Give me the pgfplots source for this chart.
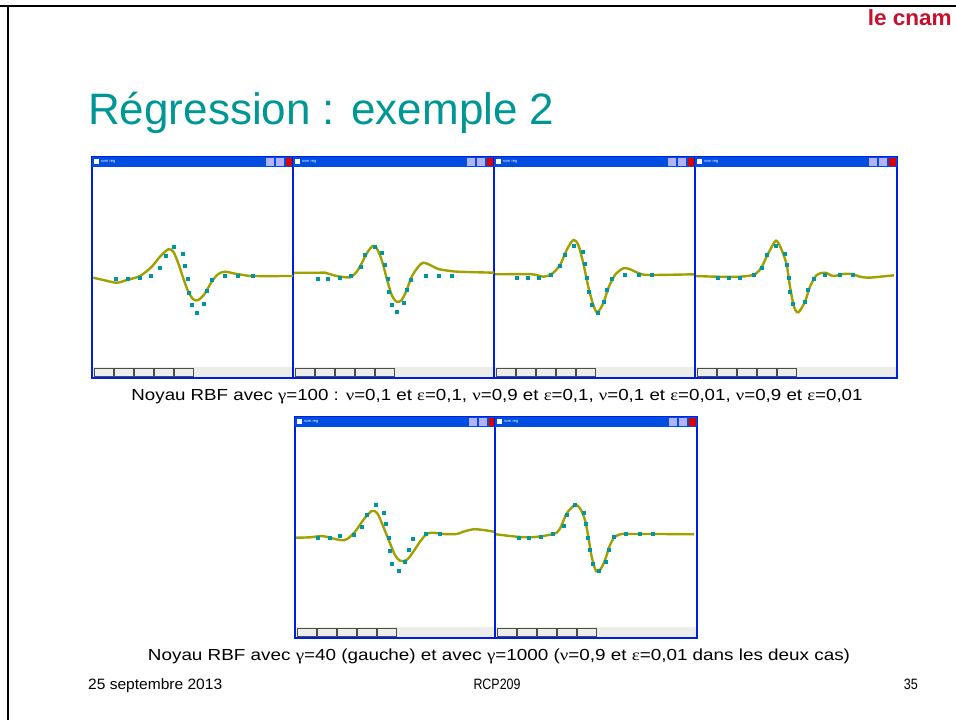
\documentclass[border=0pt]{standalone}
\usepackage{pgfplots}
\pgfplotsset{compat=1.18}
\usepackage{fontspec}
\setmainfont{Liberation Sans}
\newfontfamily\gr{Liberation Serif}
\definecolor{titleteal}{RGB}{0,150,150}
\definecolor{curvec}{RGB}{160,160,0}
\definecolor{ptsc}{RGB}{0,150,160}
\definecolor{winblue}{RGB}{0,30,225}
\definecolor{barblue}{RGB}{0,78,225}
\definecolor{cnamred}{RGB}{200,16,46}
\definecolor{toolc}{RGB}{236,236,232}
\newcommand{\win}[4]{%
 \begin{scope}[x=1pt,y=-1pt]
 \fill[winblue] (#1,#3) rectangle (#2,#4);
 \fill[barblue] (#1+1,#3+1) rectangle (#2-1,#3+11);
 \fill[white] (#1+3,#3+3) rectangle (#1+8,#3+8);
 \node[anchor=west,text=white,inner sep=0pt,font=\fontsize{4}{4}\selectfont] at (#1+10,#3+5.5) {svm reg};
 \fill[white!70!blue] (#2-29,#3+2) rectangle (#2-21,#3+10);
 \fill[white!70!blue] (#2-19,#3+2) rectangle (#2-11,#3+10);
 \fill[red!85!black] (#2-9,#3+2) rectangle (#2-2,#3+10);
 \fill[white] (#1+2,#3+11) rectangle (#2-2,#4-12);
 \fill[toolc] (#1+2,#4-12) rectangle (#2-2,#4-2);
 \foreach \i in {0,...,4} {\draw[black!70,line width=0.6pt] (#1+3+20*\i,#4-11) rectangle (#1+22+20*\i,#4-3);}
 \end{scope}}
\pgfplotsset{panel/.style={anchor=south west, width=200pt, height=200pt, scale only axis,
  xmin=0, xmax=200, ymin=0, ymax=200, hide axis, clip=true},
  fit/.style={curvec, line width=2.4pt, smooth, tension=0.5},
  obs/.style={only marks, mark=square*, mark size=1.5pt, ptsc}}
\begin{document}
\begin{tikzpicture}
\path[use as bounding box, fill=white] (0pt,0pt) rectangle (956pt,-720pt);
\draw[line width=2pt] (0pt,-6pt) -- (956pt,-6pt);
\draw[line width=2pt] (7.7pt,-5pt) -- (7.7pt,-720pt);
\node[anchor=base east, inner sep=0pt, text=cnamred, font=\bfseries\fontsize{22}{22}\selectfont] at (952pt,-25pt) {\resizebox{84pt}{\height}{le cnam}};
\node[anchor=base west, inner sep=0pt, text=titleteal, font=\fontsize{44}{44}\selectfont] at (88pt,-124pt) {Régression : exemple 2};
\win{91}{295}{156}{379}
\win{292}{496}{156}{379}
\win{493}{697}{156}{379}
\win{694}{898}{156}{379}
\win{294}{498}{416}{639}
\win{494}{698}{416}{639}
% panel 1
\begin{axis}[panel, at={(93pt,-367pt)}]
\addplot[fit] coordinates {(0.3,89.3) (10.3,87) (23.7,84.3) (33.7,87) (47,91) (58.7,100.3) (67,110.3) (75.3,117.7) (80.3,115.3) (85.3,103.7) (90.3,88.7) (95.3,75.3) (100.3,67.7) (105.3,67) (112,73.7) (118.7,85.3) (125.3,93) (132,95.3) (140.3,93.7) (150.3,92) (160.3,91) (201,91)};
\addplot[obs] coordinates {(23,88.7) (34.3,88.7) (46.3,89.3) (58,91.3) (67,99.7) (73,111) (80.3,120.3) (89.3,113) (92,101.3) (94.3,88.7) (95.7,74.7) (98.3,62) (103.7,54.3) (111,63.7) (113.7,76) (118.7,87) (131.3,91.3) (144.7,91.3) (159.3,91)};
\end{axis}
% panel 2
\begin{axis}[panel, at={(294pt,-367pt)}]
\addplot[fit] coordinates {(0,94.3) (26,94.3) (31,94.3) (42.7,91) (56,89.7) (62.7,95.3) (67.7,103.7) (72.7,113.7) (78.7,121) (82.7,118.7) (87.7,107) (92.7,88.7) (97.7,72) (102.7,65.3) (107.7,67) (112.7,77) (117.7,90.3) (124.3,100.3) (129.3,104.3) (136,102) (144.3,98) (154.3,96.3) (164.3,95.3) (200,94.3)};
\addplot[obs] coordinates {(23.3,88.7) (33.3,88.7) (45.3,89.7) (57,91.3) (66.7,100.3) (71,112) (81,120.3) (87.7,114.3) (91,102.7) (93.3,88.7) (95,75.3) (97.7,62.7) (102.7,55.3) (109.3,64.3) (112.7,77) (117,87.7) (131.7,91.3) (144.3,91.3) (158,91.3)};
\end{axis}
% panel 3
\begin{axis}[panel, at={(495pt,-367pt)}]
\addplot[fit] coordinates {(0,92.7) (36.7,92.7) (48.3,90.3) (56.7,93) (65,102) (71.7,117) (78.3,127) (83.3,122) (88.3,103.7) (93.3,80.3) (98.3,62) (102.3,54.7) (108.3,63.7) (113.3,78.7) (120,92) (128.3,98.7) (135,97.7) (145,93.3) (155,92) (199,92.7)};
\addplot[obs] coordinates {(21.7,89.7) (32.3,89.7) (44,89.7) (56,92) (65,101) (70,112) (79,121.3) (87.3,115.3) (89.7,103.7) (91.7,89.7) (93.3,75.3) (96.3,62.7) (102.3,54.7) (109,65.3) (111.7,77) (116.7,88) (129.3,92) (143.7,92) (157,92)};
\end{axis}
% panel 4
\begin{axis}[panel, at={(696pt,-367pt)}]
\addplot[fit] coordinates {(0,91) (20.7,90.3) (44,90.3) (59,92.7) (65.7,100.3) (72.3,113.7) (80,126.3) (85.7,117) (90.7,102) (94,80.3) (98,60.3) (102.3,54.7) (109,65.3) (114,80.3) (120.7,92) (129,94.3) (137.3,91) (147.3,93) (155.7,93) (164,90.3) (172.3,89.3) (184,90.3) (198,91.7)};
\addplot[obs] coordinates {(21.7,89.3) (32.3,89.3) (43.3,89.7) (57.3,92) (65.7,99.7) (70.7,112) (79.7,121) (88.3,113.7) (90.7,102) (92.3,89.3) (93.3,75.3) (96.3,63) (109,65.3) (111.3,77) (117.3,88) (129,92) (143.3,92) (156.7,92)};
\end{axis}
% panel 5
\begin{axis}[panel, at={(296pt,-627pt)}]
\addplot[fit] coordinates {(0,89.3) (14,89.7) (25.7,91) (34,89.3) (44,87) (50.7,87.7) (59,95.3) (67.3,107) (75.7,116) (81.3,113.7) (87.3,100.3) (94,83.7) (99,72) (104,66.3) (110.7,67) (117.3,75.3) (124,85.3) (130.7,93) (137.3,94.3) (147.3,93) (160.7,93) (167.3,95.3) (177.3,97.7) (187.3,97) (198,95.3)};
\addplot[obs] coordinates {(21.7,89.3) (33.3,89.3) (44,91) (58,92.7) (65.7,100.3) (70.7,112) (79.7,122.7) (87.3,114.7) (90,103) (93,89.7) (94,76.3) (96,63.7) (102.3,56) (109,65.3) (112.3,77.7) (116.7,88) (130,93) (144,93)};
\end{axis}
% panel 6
\begin{axis}[panel, at={(496pt,-627pt)}]
\addplot[fit] coordinates {(0,92.7) (20.7,90.3) (34,89.7) (47.3,91) (60.7,94.3) (65.7,102) (70.7,113.7) (79,122) (84,118.7) (89,107) (92.3,90.3) (95.7,70.3) (100,56) (104,57) (109,67) (114,82) (119,90.3) (125.7,93) (134,93) (164,93) (198,92.7)};
\addplot[obs] coordinates {(22.3,89.3) (33,89.3) (44.7,90.3) (56.7,93) (67.3,101) (70.7,112) (79,122.7) (87.3,114.7) (90,103) (91.7,89.7) (94,77) (96.7,63.7) (103,56.3) (109.7,65.3) (112.3,77.7) (118,90.3) (130,93) (143.3,93) (156.7,93)};
\end{axis}
% captions
\node[anchor=base, inner sep=0pt, font=\fontsize{16}{16}\selectfont] at (497pt,-400pt) {\resizebox{731pt}{\height}{Noyau RBF avec {\gr γ}=100 : {\gr ν}=0,1 et {\gr ε}=0,1, {\gr ν}=0,9 et {\gr ε}=0,1, {\gr ν}=0,1 et {\gr ε}=0,01, {\gr ν}=0,9 et {\gr ε}=0,01}};
\node[anchor=base, inner sep=0pt, font=\fontsize{16}{16}\selectfont] at (499pt,-660pt) {\resizebox{702pt}{\height}{Noyau RBF avec {\gr γ}=40 (gauche) et avec {\gr γ}=1000 ({\gr ν}=0,9 et {\gr ε}=0,01 dans les deux cas)}};
\node[anchor=base west, inner sep=0pt, font=\fontsize{15}{15}\selectfont] at (88pt,-689pt) {\resizebox{134pt}{\height}{25 septembre 2013}};
\node[anchor=base, inner sep=0pt, font=\fontsize{15}{15}\selectfont] at (497pt,-689pt) {\resizebox{47pt}{\height}{RCP209}};
\node[anchor=base east, inner sep=0pt, font=\fontsize{15}{15}\selectfont] at (918pt,-689pt) {\resizebox{14pt}{\height}{35}};
\end{tikzpicture}
\end{document}
